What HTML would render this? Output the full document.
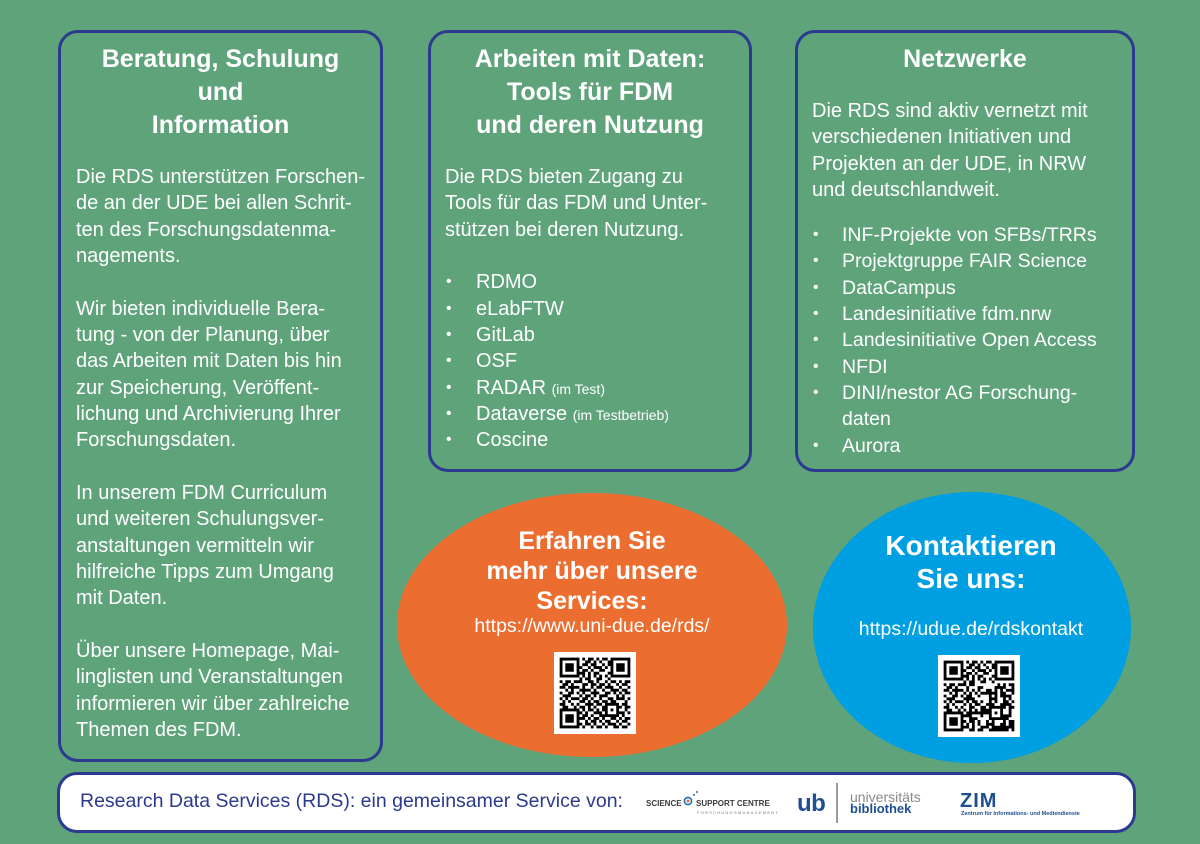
<!DOCTYPE html>
<html><head><meta charset="utf-8">
<style>
*{margin:0;padding:0;box-sizing:border-box}
html,body{width:1200px;height:844px;overflow:hidden}
body{background:#5fa37b;position:relative;font-family:"Liberation Sans",Arial,sans-serif;color:#fff}
.box{position:absolute;border:3px solid #2b3a8e;border-radius:20px}
.t{position:absolute;white-space:nowrap}
.title{font-weight:bold;font-size:25px;line-height:33px;text-align:center}
.body{font-size:20px;line-height:26.33px}
.body div{height:26.33px}
.li{position:relative;padding-left:30px}
.li:before{content:"\2022";position:absolute;left:1px;top:0;font-size:16px}
.sm{font-size:14px}
.ell{position:absolute;border-radius:50%}
.qr{position:absolute;background:#fff;width:82px;height:82px}
.qr svg{display:block}
</style></head><body>

<!-- Left box -->
<div class="box" style="left:58px;top:30px;width:325px;height:732px"></div>
<div class="t title" style="left:58px;top:43px;width:325px">Beratung, Schulung<br>und<br>Information</div>
<div class="t body" style="left:76px;top:164px">
<div>Die RDS unterstützen Forschen-</div>
<div>de an der UDE bei allen Schrit-</div>
<div>ten des Forschungsdatenma-</div>
<div>nagements.</div>
<div>&nbsp;</div>
<div>Wir bieten individuelle Bera-</div>
<div>tung - von der Planung, über</div>
<div>das Arbeiten mit Daten bis hin</div>
<div>zur Speicherung, Veröffent-</div>
<div>lichung und Archivierung Ihrer</div>
<div>Forschungsdaten.</div>
<div>&nbsp;</div>
<div>In unserem FDM Curriculum</div>
<div>und weiteren Schulungsver-</div>
<div>anstaltungen vermitteln wir</div>
<div>hilfreiche Tipps zum Umgang</div>
<div>mit Daten.</div>
<div>&nbsp;</div>
<div>Über unsere Homepage, Mai-</div>
<div>linglisten und Veranstaltungen</div>
<div>informieren wir über zahlreiche</div>
<div>Themen des FDM.</div>
</div>

<!-- Middle box -->
<div class="box" style="left:428px;top:30px;width:324px;height:442px"></div>
<div class="t title" style="left:428px;top:43px;width:324px">Arbeiten mit Daten:<br>Tools für FDM<br>und deren Nutzung</div>
<div class="t body" style="left:445px;top:164px">
<div>Die RDS bieten Zugang zu</div>
<div>Tools für das FDM und Unter-</div>
<div>stützen bei deren Nutzung.</div>
<div>&nbsp;</div>
<div class="li" style="padding-left:31px">RDMO</div>
<div class="li" style="padding-left:31px">eLabFTW</div>
<div class="li" style="padding-left:31px">GitLab</div>
<div class="li" style="padding-left:31px">OSF</div>
<div class="li" style="padding-left:31px">RADAR <span class="sm">(im Test)</span></div>
<div class="li" style="padding-left:31px">Dataverse <span class="sm">(im Testbetrieb)</span></div>
<div class="li" style="padding-left:31px">Coscine</div>
</div>

<!-- Right box -->
<div class="box" style="left:795px;top:30px;width:340px;height:442px"></div>
<div class="t title" style="left:795px;top:43px;width:340px">Netzwerke</div>
<div class="t body" style="left:812px;top:98px">
<div>Die RDS sind aktiv vernetzt mit</div>
<div>verschiedenen Initiativen und</div>
<div>Projekten an der UDE, in NRW</div>
<div>und deutschlandweit.</div>
</div>
<div class="t body" style="left:812px;top:222px;font-size:19.5px">
<div class="li">INF-Projekte von SFBs/TRRs</div>
<div class="li">Projektgruppe FAIR Science</div>
<div class="li">DataCampus</div>
<div class="li">Landesinitiative fdm.nrw</div>
<div class="li">Landesinitiative Open Access</div>
<div class="li">NFDI</div>
<div class="li">DINI/nestor AG Forschung-</div>
<div style="padding-left:30px">daten</div>
<div class="li">Aurora</div>
</div>

<!-- Orange ellipse -->
<div class="ell" style="left:397px;top:493px;width:390px;height:264px;background:#ec6d30"></div>
<div class="t" style="left:392px;top:526px;width:400px;text-align:center;font-weight:bold;font-size:25px;line-height:30px">Erfahren Sie<br>mehr über unsere<br>Services:</div>
<div class="t" style="left:392px;top:614px;width:400px;text-align:center;font-size:19.5px;line-height:24px">https://www.uni-due.de/rds/</div>
<div class="qr" style="left:554px;top:652px"><svg id="q1" width="82" height="82" viewBox="-2 -2 29 29"></svg></div>

<!-- Blue ellipse -->
<div class="ell" style="left:813px;top:492px;width:318px;height:271px;background:#009fe1"></div>
<div class="t" style="left:821px;top:529px;width:300px;text-align:center;font-weight:bold;font-size:28px;line-height:33px">Kontaktieren<br>Sie uns:</div>
<div class="t" style="left:821px;top:617px;width:300px;text-align:center;font-size:19.5px;line-height:24px">https://udue.de/rdskontakt</div>
<div class="qr" style="left:938px;top:655px"><svg id="q2" width="82" height="82" viewBox="-2 -2 29 29"></svg></div>

<!-- Bottom bar -->
<div class="box" style="left:57px;top:772px;width:1079px;height:61px;background:#fff"></div>
<div class="t" style="left:80px;top:789px;font-size:19.5px;line-height:24px;color:#2b3a8e">Research Data Services (RDS): ein gemeinsamer Service von:</div>

<!-- Science Support Centre logo -->
<div class="t" style="left:646px;top:799px;font-size:8px;line-height:10px;font-weight:bold;color:#3a3a3a">SCIENCE</div>
<svg style="position:absolute;left:683px;top:789px" width="20" height="18" viewBox="0 0 20 18">
<circle cx="5" cy="12" r="3.6" fill="none" stroke="#1d6fb8" stroke-width="1.6"/>
<circle cx="5" cy="12" r="1.5" fill="#ec6d30"/>
<circle cx="11" cy="6" r="1" fill="#1d6fb8"/>
<circle cx="14" cy="3" r="1" fill="#1d6fb8"/>
</svg>
<div class="t" style="left:696px;top:799px;font-size:8px;line-height:10px;font-weight:bold;color:#3a3a3a">SUPPORT CENTRE</div>
<div class="t" style="left:697px;top:810px;font-size:4px;line-height:5px;letter-spacing:1.25px;color:#777">FORSCHUNGSMANAGEMENT</div>

<!-- ub logo -->
<div class="t" style="left:797px;top:791px;font-size:24px;line-height:26px;font-weight:bold;color:#1d4f91;letter-spacing:-0.5px">ub</div>
<div style="position:absolute;left:836px;top:783px;width:2px;height:40px;background:#9a9a9a"></div>
<div class="t" style="left:850px;top:790px;font-size:14px;line-height:15px;color:#8a8a8a">universitäts</div>
<div class="t" style="left:850px;top:801px;font-size:13px;line-height:15px;font-weight:bold;color:#1d4f91">bibliothek</div>

<!-- ZIM logo -->
<div class="t" style="left:960px;top:791px;font-size:20px;line-height:20px;font-weight:bold;color:#1d4f91;letter-spacing:1px">ZIM</div>
<div class="t" style="left:961px;top:811px;font-size:5.5px;line-height:7px;font-weight:bold;color:#1d4f91">Zentrum für Informations- und Mediendienste</div>

<script>
var rows=[
"1111111010110101101111111",
"1000001001101010011000001",
"1011101011011001011011101",
"1011101100101110101011101",
"1011101011010011001011101",
"1000001110101100011000001",
"1111111010101010101111111",
"0000000101100110010000000",
"1011011100110100101101011",
"0110100011011011010010110",
"1101111010010110111001001",
"0010100111101001001110110",
"1001101010011100110101011",
"0111000101101011100010100",
"1010111011010010011011101",
"0101000110101101101100010",
"1100101001110110111110110",
"0110010110101001100011011",
"1111111010110101101010010",
"1000001101001110100011101",
"1011101011010011111110100",
"1011101110101101001101011",
"1011101001011010110010110",
"1000001101101001011101001",
"1111111010010110100110110"];
function draw(id,flip){
 var s=document.getElementById(id),ns="http://www.w3.org/2000/svg",d="";
 for(var y=0;y<25;y++){for(var x=0;x<25;x++){
  var v=rows[y][x];
  if(flip && y>7 && x>7 && !(y>15&&y<21&&x>15&&x<21)){v=rows[(y*7+x*3)%25][(x*5+y)%25];}
  if(v==="1"){d+="M"+x+" "+y+"h1v1h-1z";}
 }}
 var p=document.createElementNS(ns,"path");p.setAttribute("d",d);p.setAttribute("fill","#000");s.appendChild(p);
}
draw("q1",false);draw("q2",true);
</script>
</body></html>
